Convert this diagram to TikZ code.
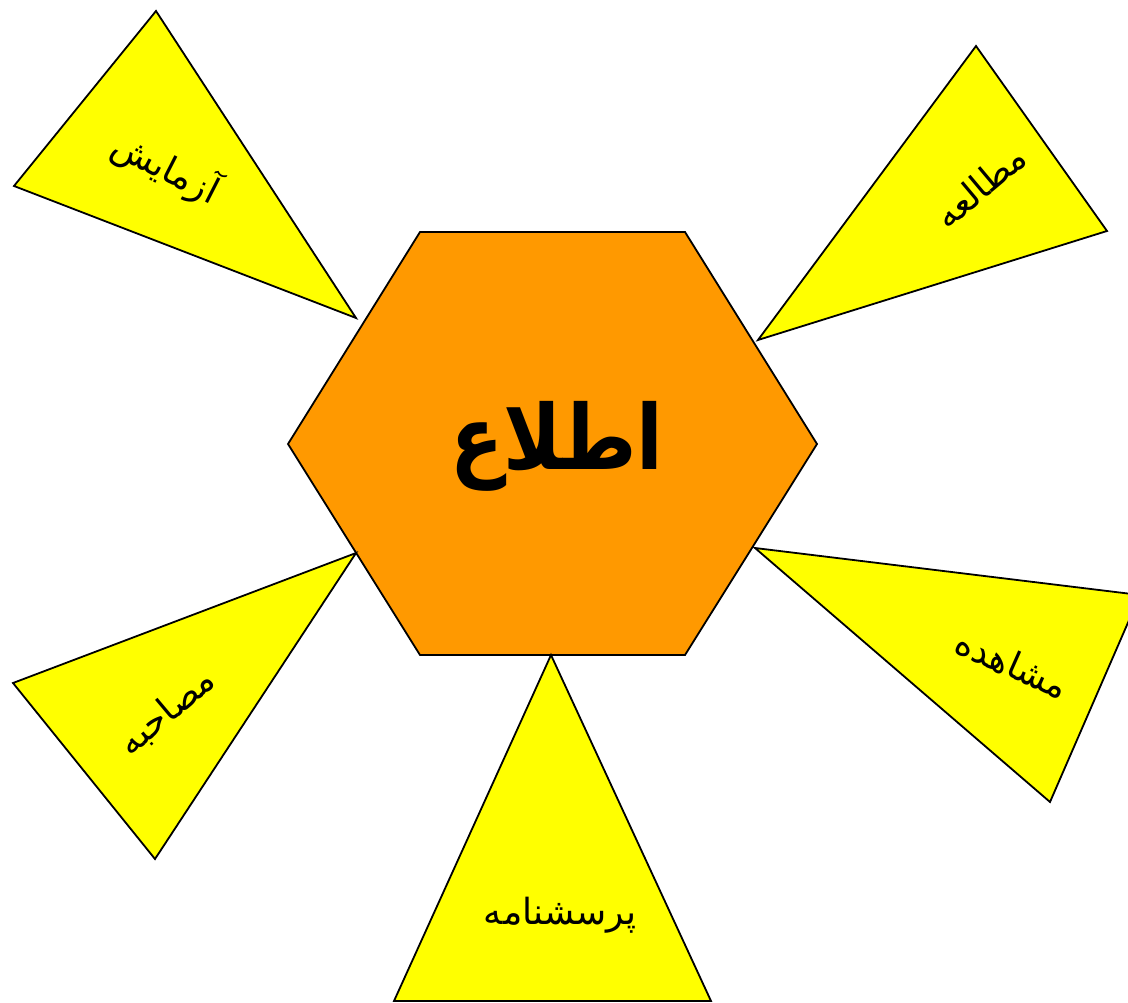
\documentclass[tikz,border=0pt]{standalone}
\usepackage{fontspec}
\TeXXeTstate=1
\newfontfamily\arabicfont[Script=Arabic]{DejaVu Sans}
\definecolor{hexorange}{RGB}{255,153,0}
\definecolor{triyellow}{RGB}{255,255,0}
\begin{document}
\begin{tikzpicture}[x=1pt,y=-1pt,
  shapeline/.style={draw=black,line width=1.8pt,line join=miter},
  tri/.style={shapeline,fill=triyellow},
  lbl/.style={font=\arabicfont\fontsize{36}{42}\selectfont,inner sep=0pt},
  mainlbl/.style={font=\arabicfont\bfseries\fontsize{78}{90}\selectfont,inner sep=0pt}]
\useasboundingbox (0,0) rectangle (1128,1003);
\clip (0,0) rectangle (1128,1003);
% hexagon
\coordinate (h1) at (420,232);
\coordinate (h2) at (685,232);
\coordinate (h3) at (817,444);
\coordinate (h4) at (685,655);
\coordinate (h5) at (420,655);
\coordinate (h6) at (288,444);
\draw[shapeline,fill=hexorange] (h1) -- (h2) -- (h3) -- (h4) -- (h5) -- (h6) -- cycle;
% triangles
\coordinate (a1) at (156,11);  \coordinate (a2) at (14,186);  \coordinate (a3) at (356,318);
\coordinate (b1) at (976,46);  \coordinate (b2) at (1107,231); \coordinate (b3) at (758,340);
\coordinate (c1) at (755,548); \coordinate (c2) at (1140,595); \coordinate (c3) at (1050,802);
\coordinate (d1) at (551,655); \coordinate (d2) at (711,1001); \coordinate (d3) at (394,1001);
\coordinate (e1) at (356,553); \coordinate (e2) at (155,859); \coordinate (e3) at (13,683);
\draw[tri] (a1) -- (a2) -- (a3) -- cycle;
\draw[tri] (b1) -- (b2) -- (b3) -- cycle;
\draw[tri] (c1) -- (c2) -- (c3) -- cycle;
\draw[tri] (d1) -- (d2) -- (d3) -- cycle;
\draw[tri] (e1) -- (e2) -- (e3) -- cycle;
% labels
\node[mainlbl,yscale=1.15] (main) at (557,446) {\beginR اطلاع\endR};
\node[lbl,rotate=-27] (t1) at (166,168) {\beginR آزمایش\endR};
\node[lbl,rotate=40] (t2) at (980,186) {\beginR مطالعه\endR};
\node[lbl,rotate=-24] (t3) at (1012,664) {\beginR مشاهده\endR};
\node[lbl] (t4) at (560,915) {\beginR پرسشنامه\endR};
\node[lbl,rotate=40] (t5) at (167,712) {\beginR مصاحبه\endR};
\end{tikzpicture}
\end{document}
